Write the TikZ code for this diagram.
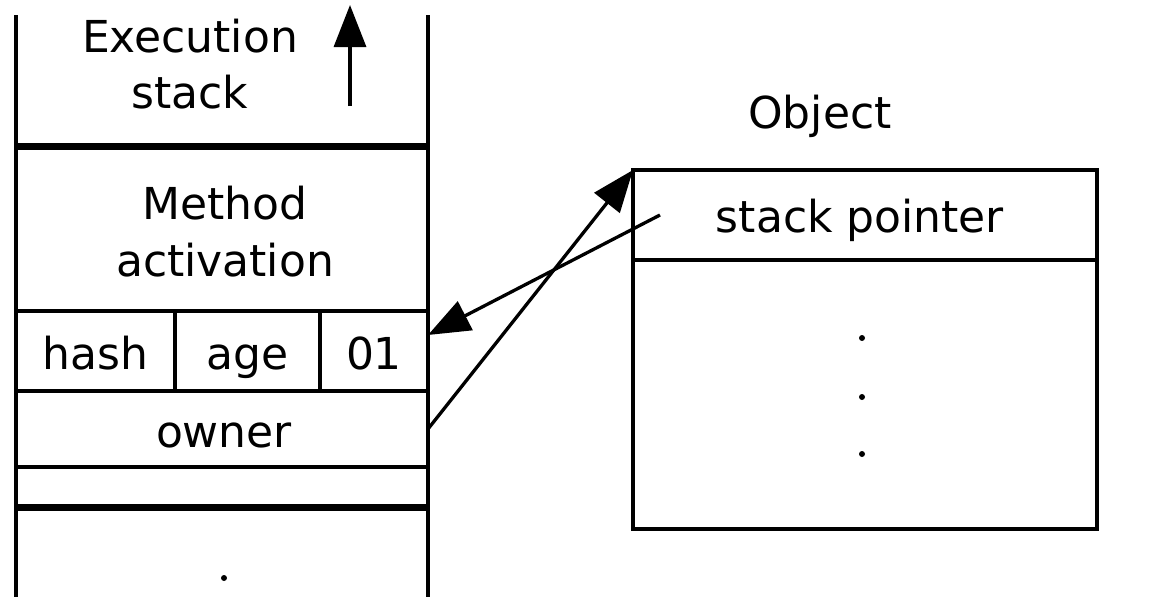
\documentclass[tikz,border=0pt]{standalone}
\usepackage{fontspec}
\setmainfont{DejaVu Sans}
\usetikzlibrary{arrows.meta}
\begin{document}
\begin{tikzpicture}[x=1pt,y=-1pt,
  cell/.style={draw, rectangle, line width=3.3pt, inner sep=0pt, outer sep=0pt},
  lbl/.style={anchor=base, inner sep=0pt, font=\fontsize{44}{53}\selectfont},
  bar/.style={line width=7pt},
  wire/.style={line width=3.3pt},
  ptr/.style={wire, -{Triangle[length=42pt,width=32pt]}},
  dotmark/.style={circle, fill, inner sep=0pt, minimum size=6pt}]
\useasboundingbox (0,0) rectangle (1154,597);
% execution stack frame
\node[cell, minimum width=412pt, minimum height=165pt] (meth) at (222,228.5) {};
\node[cell, minimum width=159pt, minimum height=80pt] (hash) at (95.5,351) {};
\node[cell, minimum width=145pt, minimum height=80pt] (age) at (247.5,351) {};
\node[cell, minimum width=108pt, minimum height=80pt] (c01) at (374,351) {};
\node[cell, minimum width=412pt, minimum height=76pt] (owner) at (222,429) {};
\node[cell, minimum width=412pt, minimum height=40pt] (emp) at (222,487) {};
\coordinate (lt) at (16,15); \coordinate (lb) at (16,600);
\coordinate (rt) at (428,15); \coordinate (rb) at (428,600);
\draw[wire] (lt) -- (lb);
\draw[wire] (rt) -- (rb);
\coordinate (b1l) at (16,146); \coordinate (b1r) at (428,146);
\coordinate (b2l) at (16,507); \coordinate (b2r) at (428,507);
\draw[bar] (b1l) -- (b1r);
\draw[bar] (b2l) -- (b2r);
% texts
\node[lbl] (t1) at (190,52) {Execution};
\node[lbl] (t2) at (190,108) {stack};
\node[lbl] (t3) at (225,219) {Method};
\node[lbl] (t4) at (225,276) {activation};
\node[lbl] (t5) at (95.5,369) {hash};
\node[lbl] (t6) at (247.5,369) {age};
\node[lbl] (t7) at (374,369) {01};
\node[lbl] (t8) at (224,447) {owner};
\node[dotmark] (d0) at (224,578) {};
% growth arrow
\coordinate (upb) at (350,106);
\coordinate (upt) at (350,5);
\draw[ptr] (upb) -- (upt);
% object
\node[lbl] (obj) at (820,128) {Object};
\node[cell, minimum width=464pt, minimum height=90pt] (sp) at (865,215) {};
\node[cell, minimum width=464pt, minimum height=269pt] (body) at (865,394.5) {};
\node[lbl] (t9) at (860,232) {stack pointer};
\node[dotmark] (d1) at (862,338) {};
\node[dotmark] (d2) at (862,397) {};
\node[dotmark] (d3) at (862,454) {};
% pointers
\draw[ptr] (owner.east) -- (sp.north west);
\draw[ptr] ([xshift=27pt]sp.west) -- ([yshift=16pt]c01.east);
\end{tikzpicture}
\end{document}
